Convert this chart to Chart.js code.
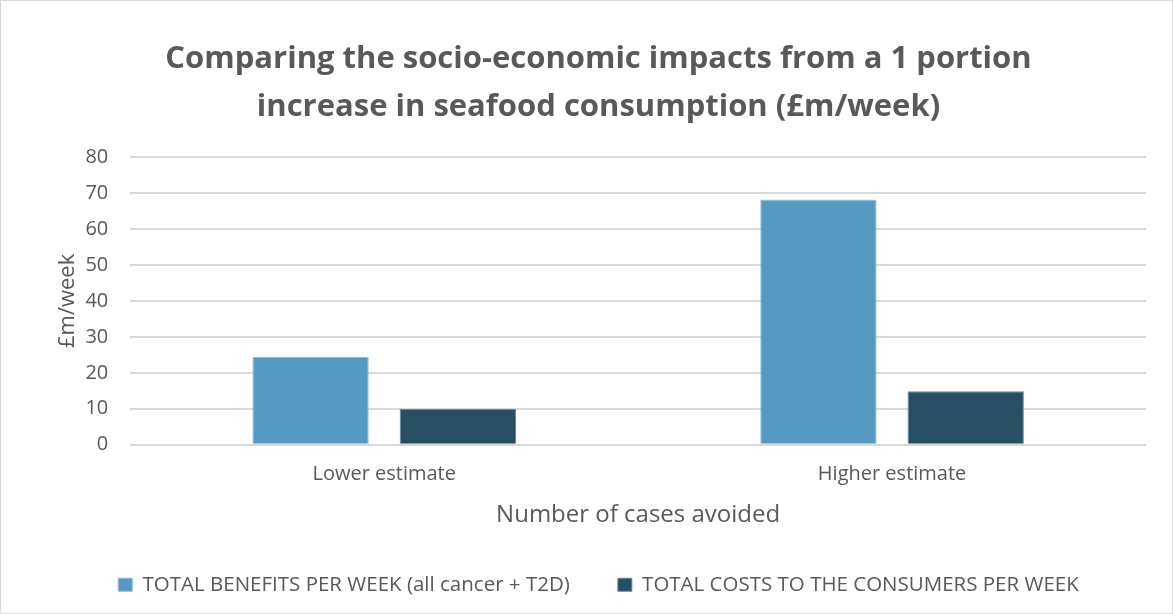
<!DOCTYPE html>
<html lang="en">
<head>
    <meta charset="UTF-8">
    <title>Socio-economic impacts</title>
    <script src="https://cdn.jsdelivr.net/npm/chart.js"></script>
    <style>
        body { margin: 0; background: #fff; }
        #wrap {
            width: 1171px;
            height: 612px;
            border: 1px solid #d9d9d9;
        }
    </style>
</head>
<body>
    <div id="wrap"><canvas id="impactChart"></canvas></div>
    <script>
        const categories = ['Lower estimate', 'Higher estimate'];
        const benefits = [24.4, 68.2];
        const costs = [9.9, 14.9];
        const yTicks = [0, 10, 20, 30, 40, 50, 60, 70, 80];

        const grey = '#595959';
        const font = '"Open Sans", "Liberation Sans", sans-serif';

        const ctx = document.getElementById('impactChart').getContext('2d');
        new Chart(ctx, {
            type: 'bar',
            data: {
                labels: categories,
                datasets: [{
                    label: 'TOTAL BENEFITS PER WEEK (all cancer + T2D)',
                    data: benefits,
                    backgroundColor: '#559AC0',
                    borderColor: '#8fbdd6',
                    borderWidth: 1
                }, {
                    label: 'TOTAL COSTS TO THE CONSUMERS PER WEEK',
                    data: costs,
                    backgroundColor: '#264F63',
                    borderColor: '#6a8a9a',
                    borderWidth: 1
                }]
            },
            options: {
                responsive: true,
                maintainAspectRatio: false,
                animation: false,
                categoryPercentage: 0.58,
                barPercentage: 0.79,
                layout: { padding: { left: 50, right: 26, top: 24, bottom: 8 } },
                plugins: {
                    title: {
                        display: true,
                        text: ['Comparing the socio-economic impacts from a 1 portion',
                               'increase in seafood consumption (£m/week)'],
                        color: grey,
                        font: { family: font, size: 31, weight: 'bold', lineHeight: 1.55 },
                        padding: { top: 10, bottom: 26 }
                    },
                    legend: {
                        position: 'bottom',
                        labels: {
                            color: grey,
                            font: { family: font, size: 20.5 },
                            boxWidth: 14,
                            boxHeight: 13,
                            padding: 48
                        }
                    },
                    tooltip: { enabled: false }
                },
                scales: {
                    x: {
                        grid: { display: false },
                        border: { display: false },
                        ticks: { color: grey, font: { family: font, size: 20 }, padding: 10 },
                        title: {
                            display: true,
                            text: 'Number of cases avoided',
                            color: grey,
                            font: { family: font, size: 24 },
                            padding: { top: 4, bottom: -3 }
                        }
                    },
                    y: {
                        min: 0,
                        max: 80,
                        afterBuildTicks: (axis) => { axis.ticks = yTicks.map(v => ({ value: v })); },
                        grid: { color: '#d9d9d9', lineWidth: 2, drawTicks: false },
                        border: { display: false },
                        ticks: { color: grey, font: { family: font, size: 20 }, padding: 22 },
                        title: {
                            display: true,
                            text: '£m/week',
                            color: grey,
                            font: { family: font, size: 22 },
                            padding: { top: 4, bottom: -18 }
                        }
                    }
                }
            }
        });
    </script>
</body>
</html>
